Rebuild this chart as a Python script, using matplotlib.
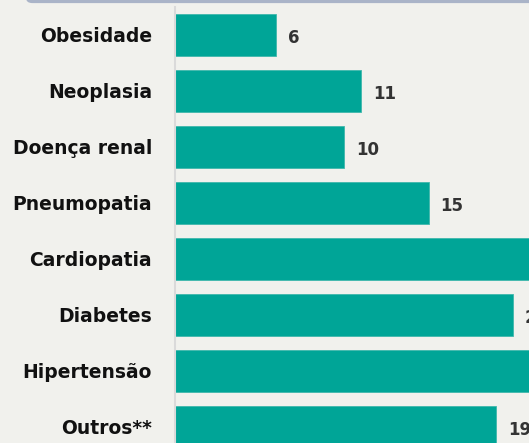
import matplotlib.pyplot as plt
from matplotlib.patches import FancyBboxPatch

categories = ['Obesidade', 'Neoplasia', 'Doença renal', 'Pneumopatia',
              'Cardiopatia', 'Diabetes', 'Hipertensão', 'Outros**']
values = [6, 11, 10, 15, 24, 20, 28, 19]

fig = plt.figure(figsize=(5.29, 4.43), dpi=100)
fig.patch.set_facecolor('#f1f1ed')

# faixa azul-acinzentada no topo
band = FancyBboxPatch((26 / 529, 0.993), 1.2, 0.05, boxstyle='round,pad=0,rounding_size=0.012',
                      transform=fig.transFigure, facecolor='#aab4c8', edgecolor='none')
fig.patches.append(band)

ax = fig.add_axes([175 / 529, 0, 1 - 175 / 529, 1])
ax.set_facecolor('none')

ypos = list(range(len(categories)))
ax.barh(ypos, values, height=0.75, color='#00a597', edgecolor='#3fb8ac', linewidth=0.6)

ax.set_xlim(0, (529 - 175) / 16.9)
ax.set_ylim((443 - 35) / 56, -35 / 56)

for y, v in zip(ypos, values):
    ax.text(v + 0.7, y + 0.05, str(v), va='center', ha='left', fontsize=12,
            fontweight='heavy', color='#333333', clip_on=True)

ax.set_yticks(ypos)
ax.set_yticklabels(categories, fontsize=13.5, fontweight='heavy', color='#111111')
ax.tick_params(axis='y', length=0, pad=16.5)
ax.set_xticks([])
for s in ['top', 'right', 'bottom']:
    ax.spines[s].set_visible(False)
ax.spines['left'].set_color('#dadada')
ax.spines['left'].set_linewidth(1.5)
ax.spines['left'].set_bounds(-0.5, 8)

fig.savefig('out.png', dpi=100, facecolor=fig.get_facecolor())
